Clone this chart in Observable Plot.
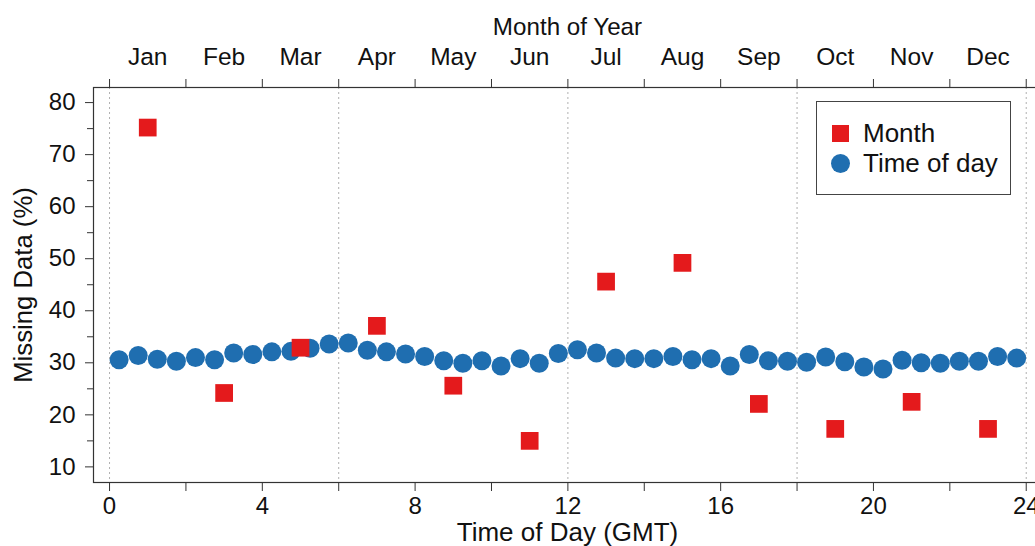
<!DOCTYPE html>
<html>
<head>
<meta charset="utf-8">
<script src="https://cdn.jsdelivr.net/npm/d3@7"></script>
<script src="https://cdn.jsdelivr.net/npm/@observablehq/plot@0.6"></script>
<style>
  html, body { margin: 0; padding: 0; background: #fff; overflow: hidden; }
  #wrap { position: relative; width: 1041px; height: 546px; font-family: "Liberation Sans", Arial, sans-serif; }
  #legend { position: absolute; left: 816px; top: 101px; width: 193px; height: 92px; border: 1.5px solid #444; background: #fff; }
  .lg-row { position: absolute; left: 0; height: 30px; display: flex; align-items: center; font-size: 26px; color: #111; }
  .sw-sq { position: absolute; left: 15px; width: 17px; height: 17px; background: #e41a1c; }
  .sw-ci { position: absolute; left: 14px; width: 19px; height: 19px; border-radius: 50%; background: #1f6eb0; }
  .lg-txt { position: absolute; left: 46px; white-space: nowrap; }
</style>
</head>
<body>
<div id="wrap"></div>
<script>
// Month of year series (plotted at mid-month positions on the hour axis)
const months = ["Jan","Feb","Mar","Apr","May","Jun","Jul","Aug","Sep","Oct","Nov","Dec"];
const monthPos = [1, 3, 5, 7, 9, 11, 13, 15, 17, 19, 21, 23];
const monthMissing = [75.2, 24.2, 32.9, 37.1, 25.6, 15.0, 45.6, 49.2, 22.1, 17.3, 22.5, 17.3];
const monthEdges = [0, 2, 4, 6, 8, 10, 12, 14, 16, 18, 20, 22, 24];

// Time of day series (half-hour bins)
const todHours = [0.25, 0.75, 1.25, 1.75, 2.25, 2.75, 3.25, 3.75, 4.25, 4.75, 5.25, 5.75,
  6.25, 6.75, 7.25, 7.75, 8.25, 8.75, 9.25, 9.75, 10.25, 10.75, 11.25, 11.75,
  12.25, 12.75, 13.25, 13.75, 14.25, 14.75, 15.25, 15.75, 16.25, 16.75, 17.25, 17.75,
  18.25, 18.75, 19.25, 19.75, 20.25, 20.75, 21.25, 21.75, 22.25, 22.75, 23.25, 23.75];
const todMissing = [30.6, 31.4, 30.7, 30.3, 31.0, 30.6, 31.9, 31.6, 32.1, 32.2, 32.8, 33.6,
  33.8, 32.4, 32.1, 31.7, 31.2, 30.4, 29.9, 30.4, 29.4, 30.8, 29.9, 31.8,
  32.5, 31.9, 30.9, 30.8, 30.8, 31.2, 30.6, 30.8, 29.4, 31.6, 30.4, 30.3,
  30.1, 31.1, 30.2, 29.2, 28.8, 30.5, 30.0, 29.9, 30.3, 30.3, 31.2, 30.9];

const xMajor = [0, 4, 8, 12, 16, 20, 24];
const xMinor = [2, 6, 10, 14, 18, 22];
const yMajor = [10, 20, 30, 40, 50, 60, 70, 80];
const yMinor = [15, 25, 35, 45, 55, 65, 75];
const gridX = [0, 6, 12, 18, 24];

const monthData = months.map((m, i) => ({month: m, x: monthPos[i], y: monthMissing[i]}));
const todData = todHours.map((h, i) => ({x: h, y: todMissing[i]}));

const RED = "#e41a1c", BLUE = "#1f6eb0", AX = "#333";

const chart = Plot.plot({
  width: 1041,
  height: 546,
  marginLeft: 93,
  marginRight: 0,
  marginTop: 87,
  marginBottom: 64,
  style: {fontFamily: "Liberation Sans, Arial, sans-serif", fontSize: "24px", color: "#111", background: "#fff"},
  x: {domain: [-0.42, 24.4]},
  y: {domain: [7.0, 82.9]},
  marks: [
    Plot.ruleX(gridX, {stroke: "#b0b0b0", strokeDasharray: "2,3", strokeWidth: 1}),
    Plot.frame({stroke: AX, strokeWidth: 1.2}),
    Plot.axisY({ticks: yMajor, tickSize: 8, tickPadding: 10, label: null, stroke: AX}),
    Plot.axisY({ticks: yMinor, tickSize: 6, tickFormat: () => "", label: null, stroke: AX}),
    Plot.axisX({anchor: "bottom", ticks: xMajor, tickSize: 9, tickPadding: 5, label: null, stroke: AX}),
    Plot.axisX({anchor: "bottom", ticks: xMinor, tickSize: 9, tickFormat: () => "", label: null, stroke: AX}),
    Plot.axisX({anchor: "top", ticks: monthEdges, tickSize: 9, tickFormat: () => "", label: null, stroke: AX}),
    Plot.text(monthData, {x: "x", text: "month", frameAnchor: "top", lineAnchor: "middle", dy: -30, fontSize: 24.5}),
    Plot.text(["Month of Year"], {frameAnchor: "top", lineAnchor: "middle", dy: -60, fontSize: 24.2}),
    Plot.text(["Time of Day (GMT)"], {frameAnchor: "bottom", lineAnchor: "middle", dy: 50, fontSize: 26}),
    Plot.text(["Missing Data (%)"], {frameAnchor: "left", textAnchor: "middle", lineAnchor: "middle", dx: -70, dy: 0, rotate: -90, fontSize: 25.7}),
    Plot.dot(todData, {x: "x", y: "y", r: 9.5, fill: BLUE, stroke: "none"}),
    Plot.dot(monthData, {x: "x", y: "y", r: 10, symbol: "square", fill: RED, stroke: "none"})
  ]
});

const wrap = document.getElementById("wrap");
wrap.appendChild(chart);

const legend = document.createElement("div");
legend.id = "legend";
legend.innerHTML = `
  <div class="lg-row" style="top:16px;width:100%"><span class="sw-sq"></span><span class="lg-txt">Month</span></div>
  <div class="lg-row" style="top:46px;width:100%"><span class="sw-ci"></span><span class="lg-txt">Time of day</span></div>`;
wrap.appendChild(legend);
</script>
</body>
</html>
